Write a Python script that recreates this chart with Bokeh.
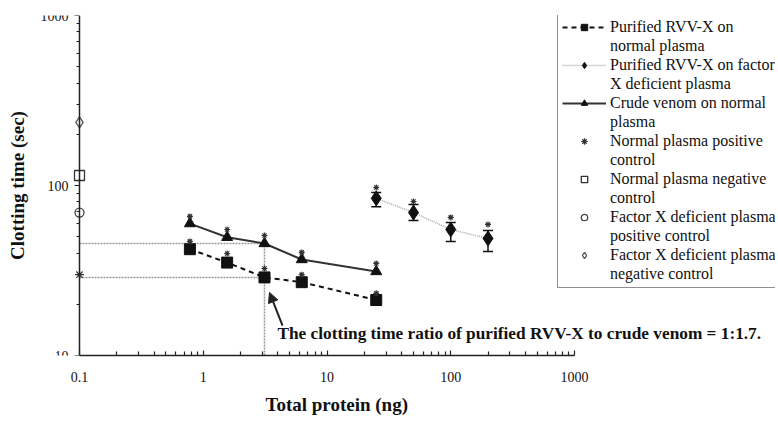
from bokeh.plotting import figure
from bokeh.models import (Range1d, Legend, LegendItem, Whisker, ColumnDataSource,
                          Label, Arrow, NormalHead, TeeHead, FixedTicker, Title)
from bokeh.embed import file_html
from bokeh.resources import INLINE

# ---------------- data ----------------
protein_ng = [0.78, 1.56, 3.125, 6.25, 25]
rvvx_normal = [42.2, 35.2, 28.8, 27.0, 21.2]
rvvx_normal_star = [46.9, 39.8, 32.5, 29.9, 23.2]
crude_normal = [59.7, 49.6, 45.6, 36.7, 31.2]
crude_normal_star = [65.8, 55.1, 50.8, 40.4, 34.8]

protein_fx = [25, 50, 100, 200]
rvvx_fxdef = [84.0, 69.3, 55.1, 48.8]
rvvx_fxdef_upper = [91.0, 77.3, 60.5, 54.3]
rvvx_fxdef_lower = [75.0, 62.2, 46.9, 40.9]
rvvx_fxdef_star = [97.3, 80.5, 64.9, 59.0]

control_x = [0.1]
normal_pos_ctrl = [29.9]
normal_neg_ctrl = [114.5]
fx_pos_ctrl = [69.3]
fx_neg_ctrl = [235.0]

ratio_x = 3.125
ratio_purified = 28.8
ratio_crude = 45.6

x_ticks = [0.1, 1, 10, 100, 1000]
x_tick_labels = ["0.1", "1", "10", "100", "1000"]
y_ticks = [10, 100, 1000]
y_tick_labels = ["10", "100", "1000"]

legend_labels = [
    ("Purified RVV-X on", "normal plasma"),
    ("Purified RVV-X on factor", "X deficient plasma"),
    ("Crude venom on normal", "plasma"),
    ("Normal plasma positive", "control"),
    ("Normal plasma negative", "control"),
    ("Factor X deficient plasma", "positive control"),
    ("Factor X deficient plasma", "negative control"),
]

FONT = "Liberation Serif"

# ---------------- figure ----------------
# the frame spans the whole canvas width; axes are limited with bounds
decade_px = 123.75
frame_left, axis_px, axis_end_px, frame_right = 2, 79, 574, 775
x_start = 0.1 / 10 ** ((axis_px - frame_left) / decade_px)
x_end = 1000 * 10 ** ((frame_right - axis_end_px) / decade_px)
p = figure(x_axis_type="log", y_axis_type="log",
           x_range=Range1d(x_start, x_end), y_range=Range1d(10, 1000),
           frame_width=frame_right - frame_left, frame_height=340,
           min_border_left=frame_left, min_border_right=1, min_border_top=15, min_border_bottom=65,
           output_backend="svg", toolbar_location=None)
p.background_fill_color = "white"
p.border_fill_color = "white"
p.outline_line_color = None
p.grid.visible = False

# axes
p.xaxis.bounds = (0.1, 1000)
p.xaxis.ticker = FixedTicker(ticks=x_ticks, minor_ticks=[m * d for d in [0.1, 1, 10, 100] for m in range(2, 10)])
p.yaxis.ticker = FixedTicker(ticks=y_ticks, minor_ticks=[m * d for d in [10, 100] for m in range(2, 10)])
p.yaxis.fixed_location = 0.1
for ax in (p.xaxis, p.yaxis):
    ax.axis_line_color = "#222222"
    ax.axis_line_width = 1.5
    ax.major_tick_line_color = "#222222"
    ax.minor_tick_line_color = "#222222"
    ax.major_tick_line_width = 1.2
    ax.minor_tick_line_width = 1.2
    ax.major_label_text_font = FONT
    ax.major_label_text_font_size = "14px"
    ax.major_label_text_color = "#111111"
    ax.axis_label_text_font = FONT
    ax.axis_label_text_font_style = "bold"
    ax.axis_label_text_font_size = "19px"
    ax.axis_label_text_color = "#111111"
p.xaxis.major_tick_in = 5
p.xaxis.major_tick_out = 0
p.xaxis.minor_tick_in = 4
p.xaxis.minor_tick_out = 0
p.xaxis.major_label_standoff = 16
p.yaxis.major_tick_in = 0
p.yaxis.major_tick_out = 5
p.yaxis.minor_tick_in = 0
p.yaxis.minor_tick_out = 3
p.yaxis.major_label_standoff = 6
p.yaxis.axis_label = "Clotting time (sec)"
p.yaxis.axis_label_standoff = 10
p.xaxis.major_label_overrides = dict(zip(x_ticks, x_tick_labels))
p.yaxis.major_label_overrides = dict(zip(y_ticks, y_tick_labels))

# x-axis title, aligned to the drawn axis rather than the (wider) frame
p.add_layout(Title(text="Total protein (ng)", align="left", offset=263, standoff=15,
                   text_font=FONT, text_font_style="bold", text_font_size="19px",
                   text_color="#111111"), "below")

# reference lines (ratio read-off)
p.segment(x0=[0.1, 0.1], y0=[ratio_crude, ratio_purified], x1=[ratio_x, ratio_x],
          y1=[ratio_crude, ratio_purified], line_color="#999999", line_width=1.5, line_dash="2 1")
p.segment(x0=[ratio_x], y0=[10], x1=[ratio_x], y1=[ratio_crude],
          line_color="#999999", line_width=1.5, line_dash="2 1")

# series
src_fx = ColumnDataSource(dict(x=protein_fx, y=rvvx_fxdef, up=rvvx_fxdef_upper, lo=rvvx_fxdef_lower))
p.add_layout(Whisker(source=src_fx, base="x", upper="up", lower="lo", line_color="#111111", line_width=1.5,
                     upper_head=TeeHead(size=10, line_color="#111111", line_width=1.5),
                     lower_head=TeeHead(size=10, line_color="#111111", line_width=1.5)))

l1 = p.line(protein_ng, rvvx_normal, line_color="#111111", line_width=2, line_dash="5 4")
m1 = p.scatter(protein_ng, rvvx_normal, marker="square", size=11, fill_color="#111111", line_color="#111111")
l2 = p.line(protein_fx, rvvx_fxdef, line_color="#aaaaaa", line_width=1.5, line_dash="1 1")
m2 = p.scatter(protein_fx, rvvx_fxdef, marker="diamond", size=15, fill_color="#111111", line_color="#111111")
l3 = p.line(protein_ng, crude_normal, line_color="#333333", line_width=2)
m3 = p.scatter(protein_ng, crude_normal, marker="triangle", size=11, fill_color="#111111", line_color="#111111")

for xs, ys in ((protein_ng, rvvx_normal_star), (protein_ng, crude_normal_star), (protein_fx, rvvx_fxdef_star)):
    p.scatter(xs, ys, marker="asterisk", size=6, line_color="#333333", line_width=1.2)

c1 = p.scatter(control_x, normal_pos_ctrl, marker="asterisk", size=9, line_color="#333333", line_width=1.2)
c2 = p.scatter(control_x, normal_neg_ctrl, marker="square", size=10, fill_color="white", line_color="#333333", line_width=1.3)
c3 = p.scatter(control_x, fx_pos_ctrl, marker="circle", size=9, fill_color="white", line_color="#444444", line_width=1.3)
c4 = p.scatter(control_x, fx_neg_ctrl, marker="diamond", size=11, fill_color="white", line_color="#555555", line_width=1.3)

# annotation
arrow_tip = (3.43, 23.5)
arrow_tail = (4.37, 15.0)
p.add_layout(Arrow(end=NormalHead(size=10, fill_color="#222222", line_color="#222222"),
                   x_start=arrow_tail[0], y_start=arrow_tail[1], x_end=arrow_tip[0], y_end=arrow_tip[1],
                   line_color="#222222", line_width=2))
note_pos = (3.98, 13.5)
p.add_layout(Label(x=note_pos[0], y=note_pos[1], text="The clotting time ratio of purified RVV-X to crude venom = 1:1.7.",
                   text_font=FONT, text_font_style="bold", text_font_size="17.3px",
                   text_baseline="middle", text_align="left", text_color="#111111"))

# legend: one entry per text line; continuation lines use an invisible stand-in glyph
blank = p.scatter(x=[], y=[], marker="square", size=1, alpha=0)
items = []
for rends, (first, second) in zip([[l1, m1], [l2, m2], [l3, m3], [c1], [c2], [c3], [c4]], legend_labels):
    items.append(LegendItem(label=first, renderers=rends))
    items.append(LegendItem(label=second, renderers=[blank]))
legend = Legend(items=items, location=(555, 67))
legend.label_text_font = FONT
legend.label_text_font_size = "16px"
legend.label_text_color = "#111111"
legend.label_height = 19
legend.glyph_height = 16
legend.glyph_width = 44
legend.label_standoff = 4
legend.padding = 4
legend.spacing = 0
legend.margin = 0
legend.border_line_color = "#222222"
legend.border_line_width = 1.2
legend.background_fill_color = "white"
legend.background_fill_alpha = 1
p.add_layout(legend, "center")

open("out.html", "w").write(file_html(p, INLINE))
